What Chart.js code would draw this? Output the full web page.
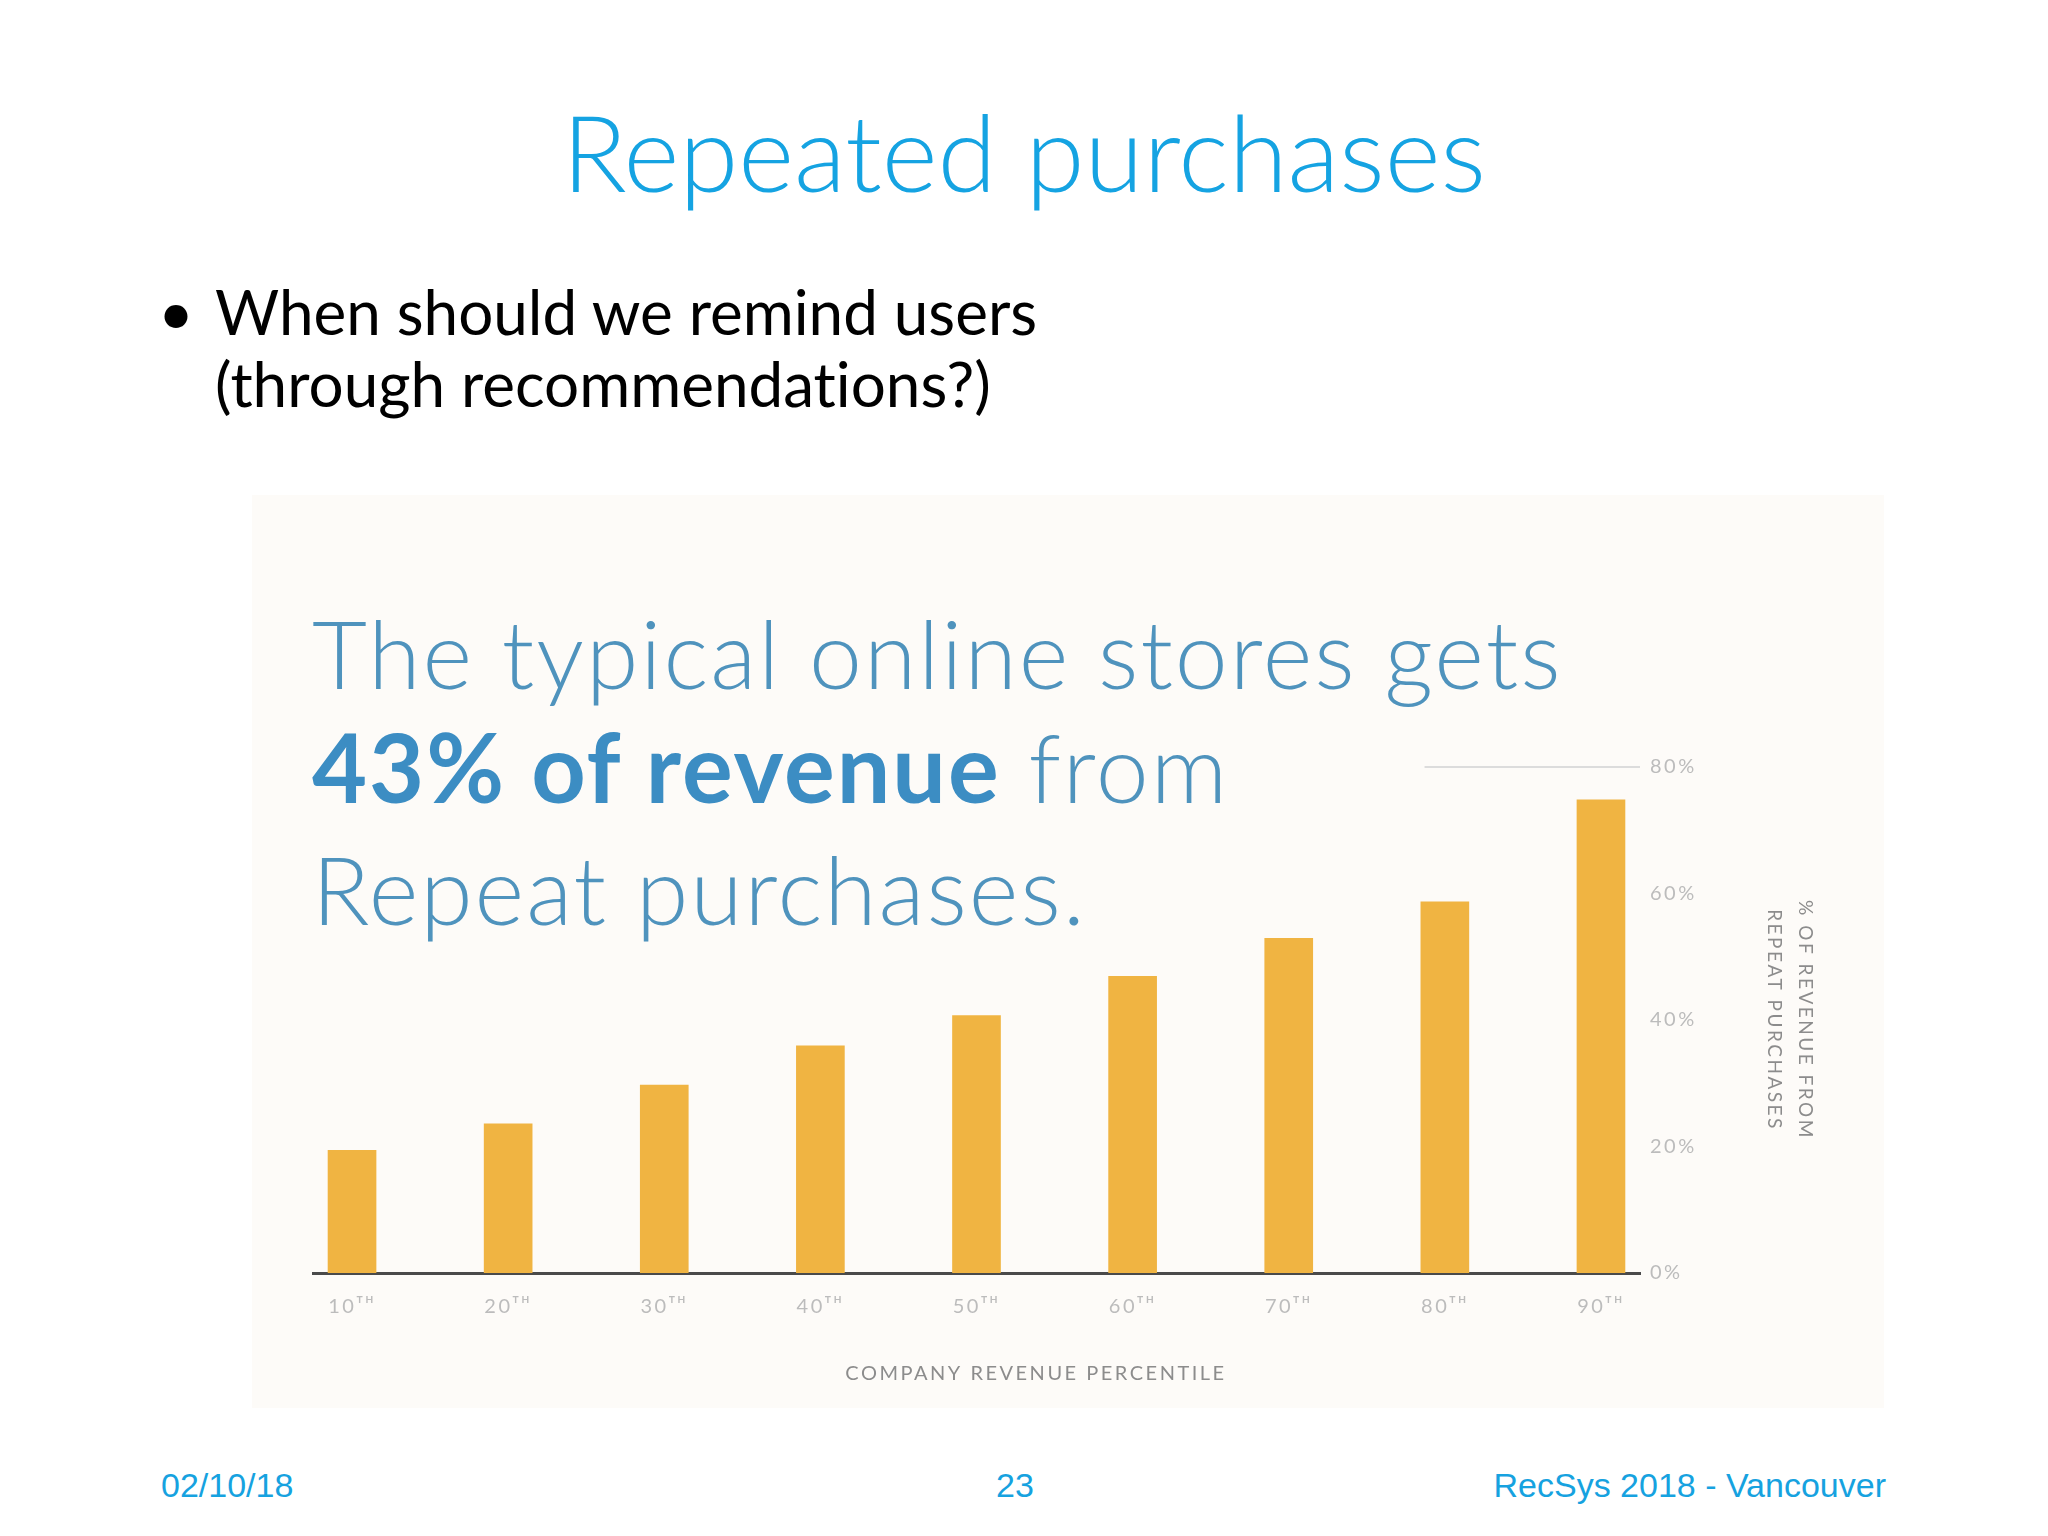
<!DOCTYPE html>
<html><head><meta charset="utf-8">
<script src="https://cdn.jsdelivr.net/npm/chart.js@4.4.0/dist/chart.umd.min.js"></script>
<style>
html,body{margin:0;padding:0;background:#fff;}
#slide{position:relative;width:2048px;height:1536px;overflow:hidden;background:#fff;}
.t{position:absolute;white-space:nowrap;line-height:1.2;font-variant-ligatures:none;}
#panel{position:absolute;left:252px;top:495px;width:1632px;height:913px;background:#fdfbf8;}
#chartBox{position:absolute;left:252px;top:495px;width:1568px;height:913px;}
</style></head><body>
<div id="slide">
  <div id="panel"></div>
  <div id="chartBox"><canvas id="c" width="1568" height="913"></canvas></div>

  <div class="t" style="left:0;width:2048px;text-align:center;top:87px;font-family:Lato;font-weight:300;font-size:107px;color:#15a3e2">Repeated purchases</div>

  <div class="t" style="left:158px;top:274px;font-family:Lato;font-size:62px;color:#000">•</div>
  <div class="t" style="left:215px;top:274px;font-family:Lato;font-size:62px;color:#000">When should we remind users</div>
  <div class="t" style="left:215px;top:346px;font-family:Lato;font-size:62px;color:#000">(through recommendations?)</div>

  <div class="t" style="left:312px;top:595px;font-family:Lato;font-weight:300;font-size:95px;letter-spacing:2px;color:#4f93bd">The typical online stores gets</div>
  <div class="t" style="left:312px;top:709px;font-family:Lato;font-weight:300;font-size:95px;letter-spacing:2px;color:#4f93bd"><span style="font-weight:700;color:#3c8dc3">43% of revenue</span> from</div>
  <div class="t" style="left:312px;top:831px;font-family:Lato;font-weight:300;font-size:95px;letter-spacing:2px;color:#4f93bd">Repeat purchases.</div>

  <div class="t" style="left:161px;top:1465px;font-family:'Liberation Sans';font-size:34px;color:#16a2e0">02/10/18</div>
  <div class="t" style="left:915px;width:200px;text-align:center;top:1465px;font-family:'Liberation Sans';font-size:34px;color:#16a2e0">23</div>
  <div class="t" style="right:162px;text-align:right;top:1465px;font-family:'Liberation Sans';font-size:34px;color:#16a2e0">RecSys 2018 - Vancouver</div>
</div>
<script>
// ---- data ----
const percentiles = [10, 20, 30, 40, 50, 60, 70, 80, 90];
const percentileLabels = ['10ᵀᴴ', '20ᵀᴴ', '30ᵀᴴ', '40ᵀᴴ', '50ᵀᴴ', '60ᵀᴴ', '70ᵀᴴ', '80ᵀᴴ', '90ᵀᴴ'];
const repeatRevenueShare = [19.4, 23.6, 29.7, 35.9, 40.7, 46.9, 52.9, 58.7, 74.8];
const yTickValues = [0, 20, 40, 60, 80];
const xAxisTitle = 'COMPANY REVENUE PERCENTILE';
const yAxisTitle = ['% OF REVENUE FROM', 'REPEAT PURCHASES'];
const topGridStart = 78.7; // x value where the faint top gridline begins

const letterSpacingPlugin = {
  id: 'ls',
  beforeDraw(chart) { chart.ctx.letterSpacing = '2.5px'; },
  afterDraw(chart) { chart.ctx.letterSpacing = '0px'; }
};
const topGridPlugin = {
  id: 'topGrid',
  beforeDatasetsDraw(chart) {
    const {ctx, scales: {x, y}, chartArea} = chart;
    const yy = y.getPixelForValue(yTickValues[yTickValues.length - 1]);
    ctx.save();
    ctx.strokeStyle = '#dcdcdc';
    ctx.lineWidth = 2;
    ctx.beginPath();
    ctx.moveTo(x.getPixelForValue(topGridStart), yy);
    ctx.lineTo(chartArea.right, yy);
    ctx.stroke();
    ctx.restore();
  }
};

new Chart(document.getElementById('c'), {
  type: 'bar',
  data: {
    datasets: [{
      label: '% of revenue from repeat purchases',
      data: percentiles.map((p, i) => ({x: p, y: repeatRevenueShare[i]})),
      backgroundColor: '#f0b442',
      borderWidth: 0,
      barThickness: 48
    }]
  },
  options: {
    responsive: false,
    devicePixelRatio: 1,
    animation: false,
    layout: {padding: {top: 272, left: 0, right: 0, bottom: 0}},
    plugins: {
      legend: {display: false},
      tooltip: {enabled: false},
      title: {
        display: true,
        position: 'bottom',
        text: xAxisTitle,
        color: '#8c8c8c',
        font: {family: 'Lato', size: 20, weight: '400', lineHeight: 1.2},
        padding: {top: 0, bottom: 22}
      }
    },
    scales: {
      spacer: {
        type: 'linear', position: 'left', display: true,
        grid: {display: false, drawTicks: false},
        border: {display: false},
        ticks: {display: false},
        afterFit(s) { s.width = 61; }
      },
      x: {
        type: 'linear',
        offset: false,
        min: 7.5, max: 92.5,
        grid: {display: false, drawTicks: false},
        border: {display: true, color: '#4a4a4a', width: 3},
        afterBuildTicks(s) { s.ticks = percentiles.map(v => ({value: v})); },
        afterFit(s) { s.height = 89; },
        ticks: {
          padding: 22,
          color: '#bcbcbc',
          font: {family: 'Lato', size: 20},
          callback(v) { const i = percentiles.indexOf(v); return i >= 0 ? percentileLabels[i] : ''; }
        }
      },
      y: {
        position: 'right',
        min: 0, max: 80,
        grid: {display: false, drawTicks: false},
        border: {display: false},
        afterBuildTicks(s) { s.ticks = yTickValues.map(v => ({value: v})); },
        afterFit(s) { s.width = 180; },
        ticks: {
          padding: 10,
          color: '#bcbcbc',
          font: {family: 'Lato', size: 20},
          callback(v) { return v + '%'; }
        },
        title: {
          display: true,
          text: yAxisTitle,
          color: '#8c8c8c',
          font: {family: 'Lato', size: 19, lineHeight: 1.6},
          padding: {top: 0, bottom: 0}
        }
      }
    }
  },
  plugins: [letterSpacingPlugin, topGridPlugin]
});
</script>
</body></html>
